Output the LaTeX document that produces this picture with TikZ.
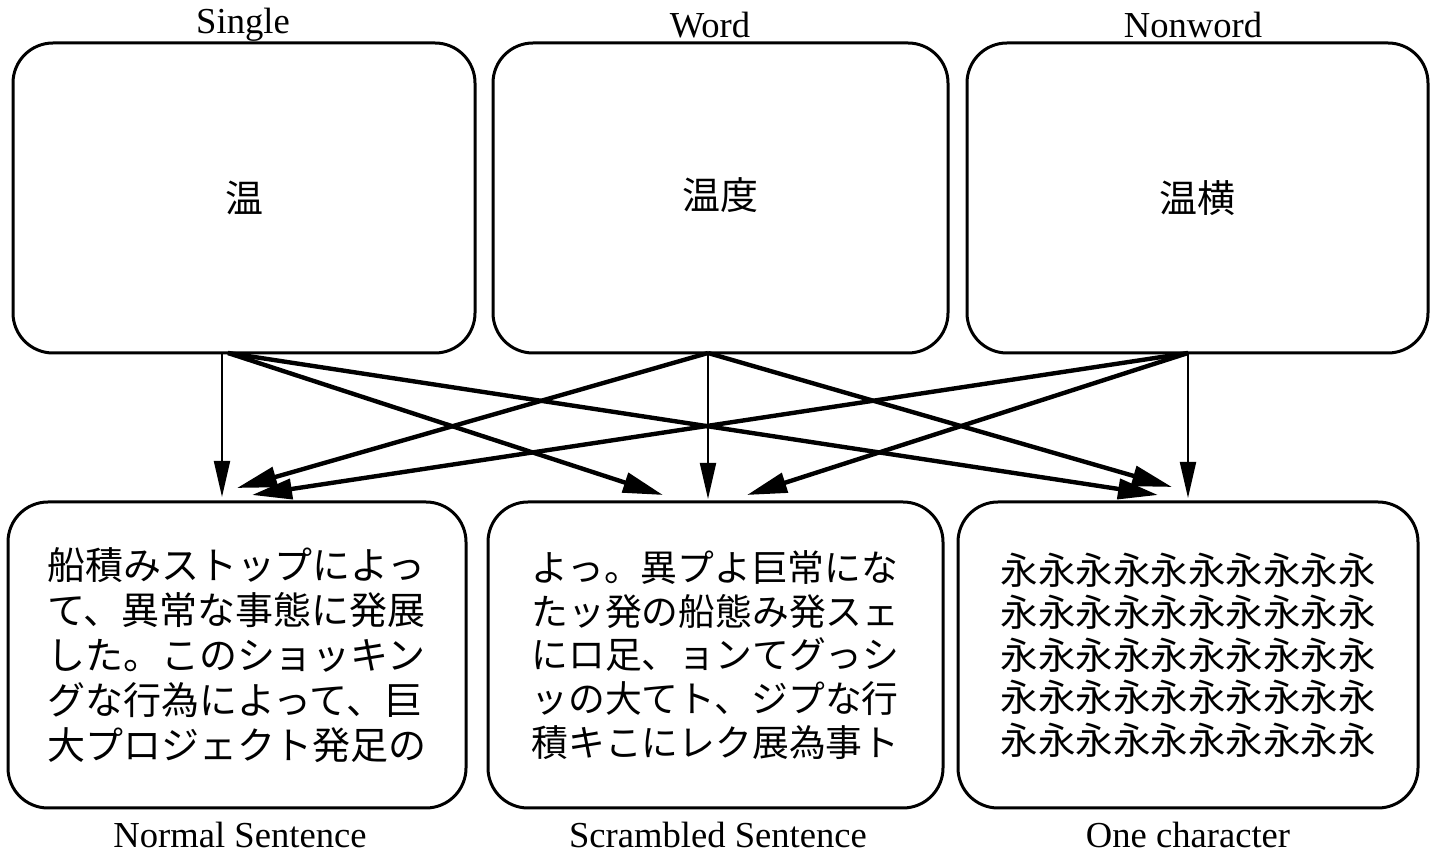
\documentclass[tikz,border=0pt]{standalone}
\usepackage{fontspec}
\setmainfont{Liberation Serif}
\newfontfamily\cjk{Noto Sans CJK JP}
\usetikzlibrary{arrows.meta}
\begin{document}
\begin{tikzpicture}[x=0.5pt,y=-0.5pt,
  box/.style={draw,line width=1.5pt,rounded corners=20pt,inner sep=0pt},
  topbox/.style={box,minimum height=155pt},
  botbox/.style={box,minimum height=153pt},
  lbl/.style={font=\fontsize{18.3}{20}\selectfont,inner sep=0pt},
  big/.style={font=\cjk\fontsize{19}{22}\selectfont},
  vert/.style={line width=1pt,-{Triangle[length=18pt,width=8pt]}},
  diag/.style={line width=2.2pt,-{Triangle[length=20pt,width=10pt]}}]
\useasboundingbox (0,0) rectangle (1437,854);
% top boxes
\node[topbox,minimum width=231pt,big] (single) at (244,198) {温};
\node[topbox,minimum width=227.5pt,big] (word) at (720.5,198) {\raisebox{4pt}{温度}};
\node[topbox,minimum width=230.5pt,big] (nonword) at (1197.5,198) {温横};
% bottom boxes
\node[botbox,minimum width=229pt,align=left,font=\cjk\fontsize{19}{22.5}\selectfont] (normal) at (237,655)
 {船積みストップによっ\\て、異常な事態に発展\\した。このショッキン\\グな行為によって、巨\\大プロジェクト発足の};
\node[botbox,minimum width=227.5pt,align=left,font=\cjk\fontsize{18.4}{21.8}\selectfont] (scram) at (715.5,655)
 {よっ。異プよ巨常にな\\たッ発の船態み発スェ\\にロ足、ョンてグっシ\\ッの大てト、ジプな行\\積キこにレク展為事ト};
\node[botbox,minimum width=230pt,align=left,font=\cjk\fontsize{18.75}{21.3}\selectfont] (onechar) at (1188,655)
 {永永永永永永永永永永\\永永永永永永永永永永\\永永永永永永永永永永\\永永永永永永永永永永\\永永永永永永永永永永};
% labels
\node[lbl] (lsingle) at (243,25) {Single};
\node[lbl] (lword) at (710,25) {Word};
\node[lbl] (lnonword) at (1193,25) {Nonword};
\node[lbl] (lnormal) at (240,835) {Normal Sentence};
\node[lbl] (lscram) at (718,835) {Scrambled Sentence};
\node[lbl] (lone) at (1188,835) {One character};
% connector end points
\coordinate (sV) at (222,353);
\coordinate (sD) at (228,353);
\coordinate (wV) at (708,353);
\coordinate (nV) at (1188,353);
\coordinate (tSV) at (222,497);
\coordinate (tSM) at (663,495);
\coordinate (tSR) at (1158,495);
\coordinate (tWV) at (708,499);
\coordinate (tWL) at (237,488);
\coordinate (tWR) at (1172,487);
\coordinate (tNV) at (1188,498);
\coordinate (tNL) at (252,495);
\coordinate (tNM) at (747,495);
% arrows
\draw[vert] (sV) -- (tSV);
\draw[vert] (wV) -- (tWV);
\draw[vert] (nV) -- (tNV);
\draw[diag] (sD) -- (tSM);
\draw[diag] (sD) -- (tSR);
\draw[diag] (wV) -- (tWL);
\draw[diag] (wV) -- (tWR);
\draw[diag] (nV) -- (tNL);
\draw[diag] (nV) -- (tNM);
\end{tikzpicture}
\end{document}
